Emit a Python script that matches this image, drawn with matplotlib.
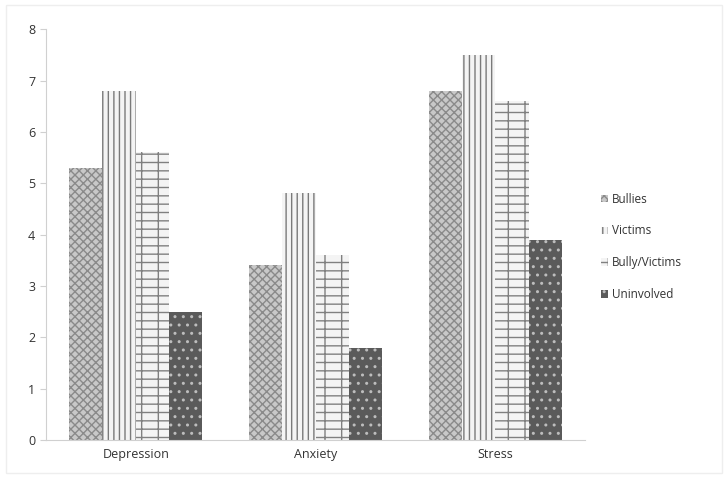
import matplotlib

matplotlib.use("Agg")
import matplotlib.pyplot as plt
import numpy as np

categories = ["Depression", "Anxiety", "Stress"]
series = ["Bullies", "Victims", "Bully/Victims", "Uninvolved"]
bullies = [5.3, 3.4, 6.8]
victims = [6.8, 4.8, 7.5]
bully_victims = [5.6, 3.6, 6.6]
uninvolved = [2.5, 1.8, 3.9]

plt.rcParams["font.family"] = ["Open Sans", "DejaVu Sans"]
plt.rcParams["hatch.linewidth"] = 1.0

styles = [
    dict(facecolor="#c8c8c8", edgecolor="#8a8a8a", hatch="xxxx"),
    dict(facecolor="#f4f4f4", edgecolor="#7a7a7a", hatch="|||"),
    dict(facecolor="#f4f4f4", edgecolor="#808080", hatch="+-"),
    dict(facecolor="#5a5a5a", edgecolor="#bdbdbd", hatch=".."),
]

fig = plt.figure(figsize=(7.27, 4.78), dpi=100)
ax = fig.add_axes([0.063, 0.0795, 0.742, 0.8595])

x = np.arange(len(categories))
width = 0.185
for i, (name, vals) in enumerate(zip(series, [bullies, victims, bully_victims, uninvolved])):
    ax.bar(x + (i - 1.5) * width, vals, width, label=name, linewidth=0, **styles[i])

ax.set_xlim(-0.5, 2.5)
ax.set_ylim(0, 8)
ax.set_xticks(x)
ax.set_xticklabels(categories)
ax.set_yticks(range(0, 9))
for s in ["top", "right"]:
    ax.spines[s].set_visible(False)
for s in ["left", "bottom"]:
    ax.spines[s].set_color("#d0d0d0")
ax.tick_params(axis="y", colors="#d0d0d0", labelcolor="#333333", labelsize=9, length=4)
ax.tick_params(axis="x", length=0, labelcolor="#333333", labelsize=9, pad=6)

leg = ax.legend(loc="center left", bbox_to_anchor=(1.01, 0.47), frameon=False,
                fontsize=8.5, handlelength=0.6, handleheight=0.6, handletextpad=0.3,
                labelspacing=1.6, labelcolor="#333333")

fig.patches.append(plt.Rectangle((0.008, 0.01), 0.985, 0.98, transform=fig.transFigure,
                                 fill=False, edgecolor="#eeeeee", linewidth=1))
fig.savefig("out.png", dpi=100)
